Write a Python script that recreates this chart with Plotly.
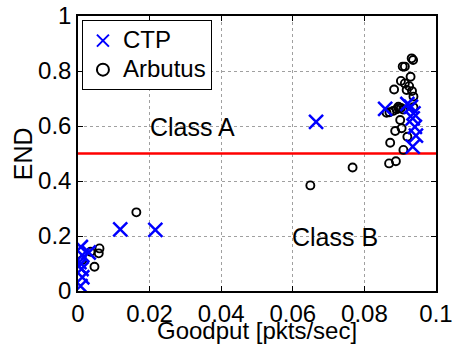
import plotly.graph_objects as go

# CTP runs: goodput [pkts/sec] and END
ctp_goodput = [0.0008, 0.0012, 0.0004, 0.0002, 0.0010, 0.0012, 0.0007, 0.0030,
               0.0118, 0.0216, 0.0665,
               0.0858, 0.0920, 0.0930, 0.0937, 0.0935, 0.0941, 0.0944, 0.0935]
ctp_end = [0.160, 0.130, 0.105, 0.090, 0.080, 0.050, 0.018, 0.140,
           0.224, 0.222, 0.615,
           0.662, 0.680, 0.670, 0.646, 0.628, 0.597, 0.565, 0.525]

# Arbutus runs: goodput [pkts/sec] and END
arb_goodput = [0.0012, 0.0035, 0.0060, 0.0058, 0.0046, 0.0163,
               0.0649, 0.0767,
               0.0932, 0.0936, 0.0907, 0.0913, 0.0929, 0.0902, 0.0913, 0.0925,
               0.0883, 0.0918, 0.0933, 0.0937, 0.0937, 0.0862, 0.0870, 0.0880,
               0.0890, 0.0896, 0.0902, 0.0908, 0.0895, 0.0900, 0.0904, 0.0886,
               0.0920, 0.0872, 0.0909, 0.0869, 0.0888]
arb_end = [0.113, 0.143, 0.155, 0.137, 0.088, 0.286,
           0.384, 0.449,
           0.846, 0.840, 0.816, 0.816, 0.779, 0.764, 0.755, 0.745,
           0.733, 0.731, 0.727, 0.707, 0.668, 0.648, 0.650, 0.655,
           0.661, 0.664, 0.666, 0.660, 0.670, 0.622, 0.592, 0.582,
           0.561, 0.539, 0.513, 0.464, 0.472]

threshold = 0.5
x_ticks = [0, 0.02, 0.04, 0.06, 0.08, 0.1]
x_tick_text = ["0", "0.02", "0.04", "0.06", "0.08", "0.1"]
y_ticks = [0, 0.2, 0.4, 0.6, 0.8, 1]
y_tick_text = ["0", "0.2", "0.4", "0.6", "0.8", "1"]

FONT = "Liberation Sans, Arial, Helvetica, sans-serif"
LEGEND_TEXT = '<span style="font-size:24px">{}</span>'

fig = go.Figure()

fig.add_trace(go.Scatter(
    x=[0, 0.1], y=[threshold, threshold], mode="lines",
    line=dict(color="#ff0000", width=2.5), showlegend=False, hoverinfo="skip"))

fig.add_trace(go.Scatter(
    x=arb_goodput, y=arb_end, mode="markers", name=LEGEND_TEXT.format("Arbutus"),
    marker=dict(symbol="circle-open", size=8, color="black",
                line=dict(color="black", width=1.9))))

fig.add_trace(go.Scatter(
    x=ctp_goodput, y=ctp_end, mode="markers", name=LEGEND_TEXT.format("CTP"),
    marker=dict(symbol="x-thin-open", size=14, color="#0000ff",
                line=dict(color="#0000ff", width=2.5))))

# region labels
fig.add_annotation(x=0.0319, y=0.597, text="Class A", showarrow=False,
                   font=dict(family=FONT, size=25, color="black"))
fig.add_annotation(x=0.0718, y=0.197, text="Class B", showarrow=False,
                   font=dict(family=FONT, size=25, color="black"))

# axis titles
fig.add_annotation(xref="paper", yref="paper", x=0.499, y=-0.144,
                   xanchor="center", yanchor="middle", showarrow=False,
                   text="Goodput [pkts/sec]",
                   font=dict(family=FONT, size=24, color="black"))
fig.add_annotation(xref="paper", yref="paper", x=-0.153, y=0.498,
                   xanchor="center", yanchor="middle", showarrow=False,
                   text="END", textangle=-90,
                   font=dict(family=FONT, size=25, color="black"))

axis_common = dict(
    showgrid=True, gridcolor="#a0a0a0", griddash="dot", gridwidth=1,
    showline=True, linecolor="black", linewidth=1.5, mirror="ticks",
    ticks="inside", ticklen=5, tickcolor="black", zeroline=False,
    automargin=False, ticklabeloverflow="allow",
    tickfont=dict(family=FONT, size=24, color="black"),
)

fig.update_xaxes(range=[0, 0.1], tickvals=x_ticks, ticktext=x_tick_text,
                 **axis_common)
fig.update_yaxes(range=[0, 1], tickvals=y_ticks, ticktext=y_tick_text,
                 **axis_common)

fig.update_layout(
    width=453, height=345,
    margin=dict(l=78, r=17, t=16, b=54),
    plot_bgcolor="white", paper_bgcolor="white",
    legend=dict(x=0.011, y=0.985, xanchor="left", yanchor="top",
                bgcolor="white", bordercolor="black", borderwidth=1,
                traceorder="reversed", itemsizing="constant",
                font=dict(family=FONT, size=20, color="black"),
                tracegroupgap=0, itemwidth=30),
    font=dict(family=FONT, color="black"),
)

fig.write_html("out.html")
